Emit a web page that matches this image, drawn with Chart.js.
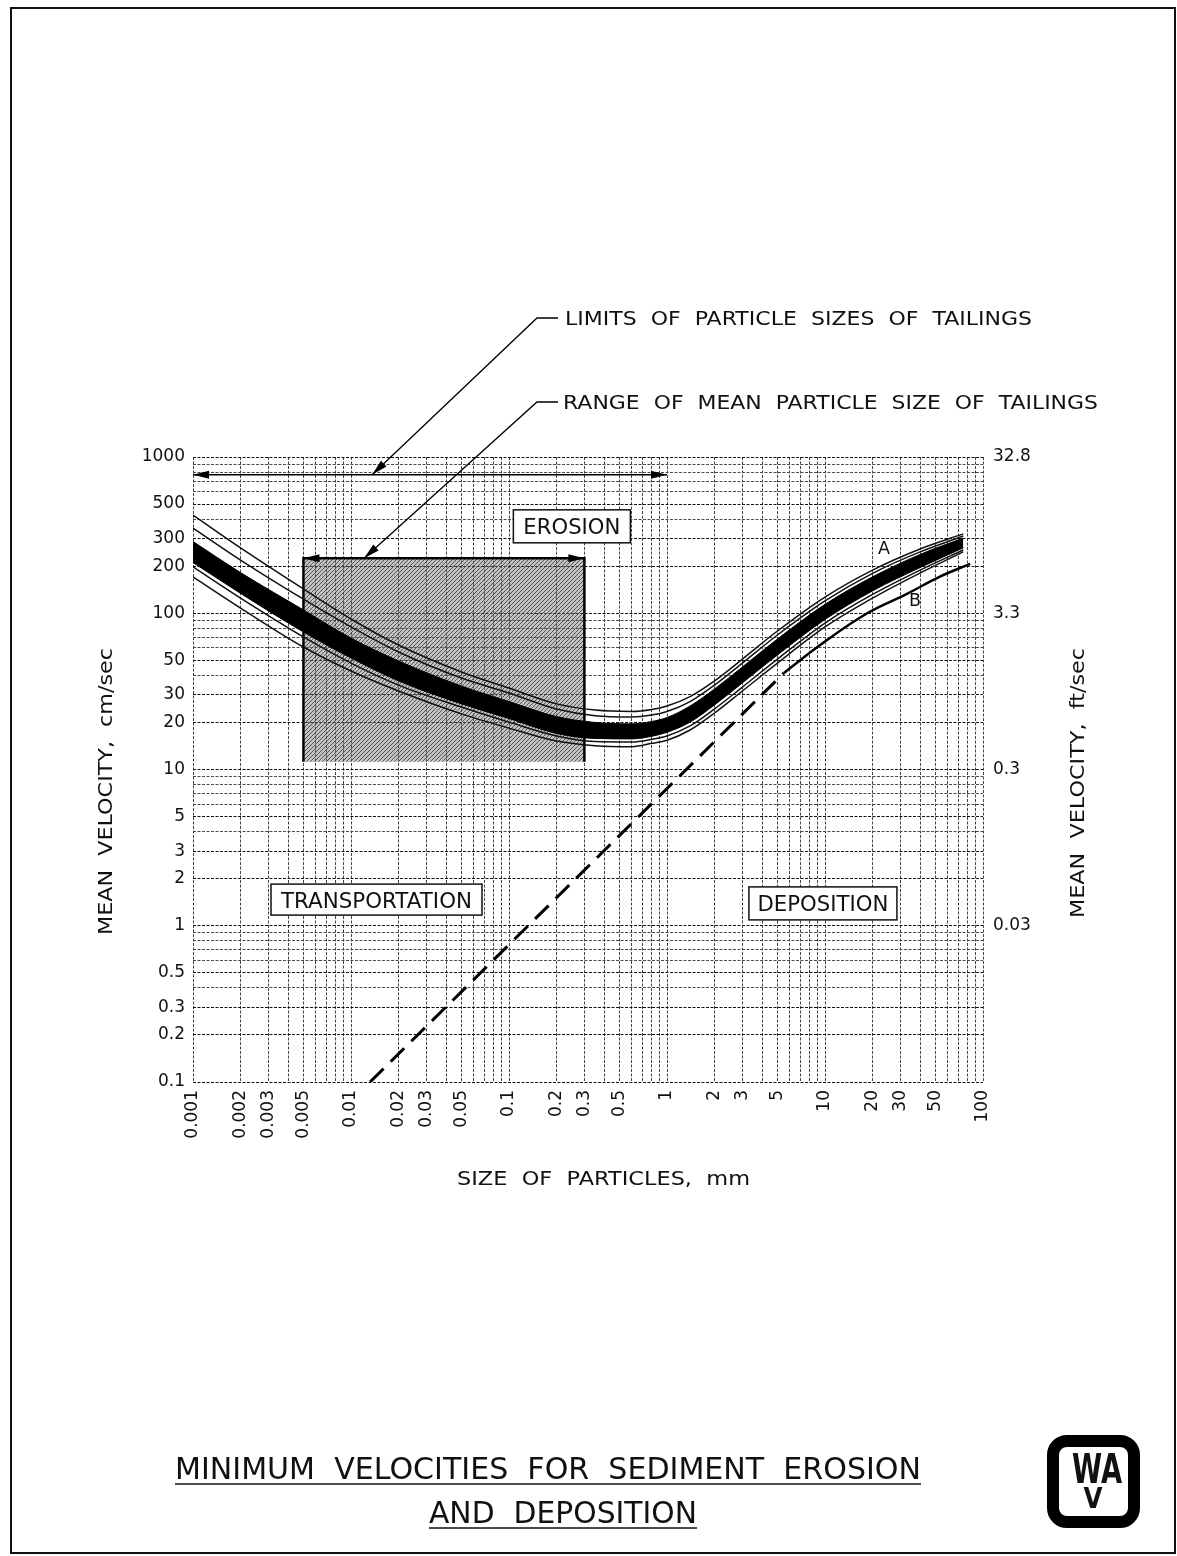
<!DOCTYPE html>
<html lang="en">
<head>
<meta charset="UTF-8" />
<title>Minimum velocities for sediment erosion and deposition</title>
<script src="https://cdn.jsdelivr.net/npm/chart.js@4.4.1/dist/chart.umd.min.js"></script>
<style>
  html, body { margin: 0; padding: 0; background: #fff; }
  canvas { display: block; }
</style>
</head>
<body>
<canvas id="chart" width="1177" height="1556"></canvas>
<script>
// axis ticks (size in mm, velocity in cm/sec)
const xTickValues = [0.001, 0.002, 0.003, 0.005, 0.01, 0.02, 0.03, 0.05, 0.1, 0.2, 0.3, 0.5, 1, 2, 3, 5, 10, 20, 30, 50, 100];
const xTickLabels = ['0.001', '0.002', '0.003', '0.005', '0.01', '0.02', '0.03', '0.05', '0.1', '0.2', '0.3', '0.5', '1', '2', '3', '5', '10', '20', '30', '50', '100'];
const yTickValues = [0.1, 0.2, 0.3, 0.5, 1, 2, 3, 5, 10, 20, 30, 50, 100, 200, 300, 500, 1000];
const yTickLabels = ['0.1', '0.2', '0.3', '0.5', '1', '2', '3', '5', '10', '20', '30', '50', '100', '200', '300', '500', '1000'];
// right axis: same positions, labelled in ft/sec
const ftTickValues = [1000, 100, 10, 1];
const ftTickLabels = ['32.8', '3.3', '0.3', '0.03'];

// erosion curve A: solid band (top/bottom edge) + two thin lines each side
const erosionSize = [0.001, 0.002, 0.005, 0.01, 0.02, 0.05, 0.1, 0.2, 0.35, 0.6, 0.8, 1, 1.4, 2, 3, 5, 10, 20, 40, 75];
const erosionUpperOuter = [425, 262, 143, 91.9, 62.6, 42.1, 33.2, 26.3, 24.0, 23.5, 24.2, 25.5, 29.3, 36.9, 50.9, 77.0, 127, 189, 258, 322];
const erosionUpperInner = [351, 219, 123, 81.7, 56.5, 38.5, 30.9, 24.4, 22.1, 21.7, 22.3, 23.5, 27.2, 34.7, 48.0, 72.6, 120, 180, 247, 312];
const erosionBandTop = [288, 182, 105, 69.4, 49.5, 34.2, 27.2, 21.8, 20.0, 19.6, 20.3, 21.5, 25.5, 32.8, 45.3, 68.4, 114, 171, 238, 303];
const erosionBandBottom = [211, 134, 75.9, 51.7, 36.9, 26.3, 21.2, 17.0, 15.8, 15.7, 16.3, 17.3, 20.1, 25.9, 35.8, 54.0, 91.2, 139, 196, 262];
const erosionLowerInner = [198, 125, 70.5, 48.0, 34.7, 25.1, 20.1, 16.4, 15.1, 15.0, 15.6, 16.4, 19.0, 24.4, 33.7, 50.9, 86.6, 132, 189, 254];
const erosionLowerOuter = [171, 108, 60.8, 42.7, 31.8, 22.7, 18.4, 15.2, 14.2, 14.0, 14.7, 15.4, 17.9, 23.0, 31.8, 48.0, 81.7, 125, 181, 247];

// deposition: dashed line, then curve B
const depositionSize = [0.0132, 5.5];
const depositionVel = [0.1, 41.5];
const curveBSize = [5.5, 9.7, 18.5, 33, 53, 83];
const curveBVel = [41.5, 64.5, 100, 133, 171, 207];

// tailings
const limitSize = [0.001, 1];
const limitVel = [770, 770];
const rangeSize = [0.005, 0.3];
const rangeTop = 225;
const rangeBottom = 11.2;

const pts = (xs, ys) => xs.map((x, i) => ({ x, y: ys[i] }));

function logGrid(from, to) {
  const out = [];
  for (let e = from; e < to; e++) {
    for (let m = 1; m < 10; m++) out.push(Number((m * 10 ** e).toPrecision(2)));
  }
  out.push(10 ** to);
  return out;
}

function labelFor(values, labels, v) {
  const i = values.findIndex(t => Math.abs(t / v - 1) < 1e-9);
  return i < 0 ? '' : labels[i];
}

const canvas = document.getElementById('chart');
const ctx0 = canvas.getContext('2d');

// diagonal hatching for the mean size range
const tile = document.createElement('canvas');
tile.width = tile.height = 4;
const tc = tile.getContext('2d');
tc.fillStyle = 'rgba(120,120,120,0.45)';
tc.fillRect(0, 0, 4, 4);
tc.strokeStyle = 'rgba(40,40,40,0.7)';
tc.lineWidth = 1;
tc.beginPath();
tc.moveTo(0, 4); tc.lineTo(4, 0);
tc.moveTo(-1, 1); tc.lineTo(1, -1);
tc.moveTo(3, 5); tc.lineTo(5, 3);
tc.stroke();
const hatch = ctx0.createPattern(tile, 'repeat');

const FONT = '"DejaVu Sans"';

// text squeezed to a given width (the drawing uses a narrow CAD lettering)
function fitText(ctx, str, cx, cy, width, size, angle = 0, bold = false) {
  ctx.save();
  ctx.font = (bold ? 'bold ' : '') + size + 'px ' + FONT;
  const k = width / ctx.measureText(str).width;
  ctx.translate(cx, cy);
  ctx.rotate(angle);
  ctx.scale(k, 1);
  ctx.textAlign = 'center';
  ctx.textBaseline = 'alphabetic';
  ctx.fillStyle = '#111';
  ctx.fillText(str, 0, size * 0.365);
  ctx.restore();
}

function arrowHead(ctx, fx, fy, tx, ty, len = 16, half = 4) {
  const a = Math.atan2(ty - fy, tx - fx);
  ctx.save();
  ctx.translate(tx, ty);
  ctx.rotate(a);
  ctx.beginPath();
  ctx.moveTo(0, 0);
  ctx.lineTo(-len, -half);
  ctx.lineTo(-len, half);
  ctx.closePath();
  ctx.fillStyle = '#000';
  ctx.fill();
  ctx.restore();
}

const decorations = {
  id: 'decorations',
  beforeDraw(chart) {
    const { ctx } = chart;
    ctx.save();
    ctx.fillStyle = '#fff';
    ctx.fillRect(0, 0, chart.width, chart.height);
    ctx.restore();
  },
  afterDatasetsDraw(chart) {
    const { ctx, scales: { x, y } } = chart;
    const px = (d, v) => [x.getPixelForValue(d), y.getPixelForValue(v)];

    // arrowheads on dimension lines
    chart.data.datasets.forEach((ds, i) => {
      if (!ds.arrows) return;
      const p = chart.getDatasetMeta(i).data;
      ds.arrows.forEach(([a, b]) => arrowHead(ctx, p[a].x, p[a].y, p[b].x, p[b].y));
    });

    // leader lines from the notes to the dimension lines
    const leaders = [
      { y: 318, tip: px(0.0136, limitVel[0]) },
      { y: 402, tip: px(0.0121, rangeTop) }
    ];
    ctx.save();
    ctx.strokeStyle = '#000';
    ctx.lineWidth = 1.3;
    leaders.forEach(l => {
      ctx.beginPath();
      ctx.moveTo(558, l.y);
      ctx.lineTo(537, l.y);
      ctx.lineTo(l.tip[0], l.tip[1]);
      ctx.stroke();
      arrowHead(ctx, 537, l.y, l.tip[0], l.tip[1]);
    });
    ctx.restore();

    // boxed zone names
    const boxes = [
      { text: 'EROSION', at: [0.25, 360], w: 117, h: 33, tw: 97 },
      { text: 'TRANSPORTATION', at: [0.0145, 1.47], w: 211, h: 31, tw: 191 },
      { text: 'DEPOSITION', at: [9.7, 1.39], w: 148, h: 33, tw: 131 }
    ];
    boxes.forEach(b => {
      const [cx, cy] = px(b.at[0], b.at[1]);
      ctx.save();
      ctx.fillStyle = '#fff';
      ctx.strokeStyle = '#111';
      ctx.lineWidth = 1.5;
      ctx.fillRect(cx - b.w / 2, cy - b.h / 2, b.w, b.h);
      ctx.strokeRect(cx - b.w / 2, cy - b.h / 2, b.w, b.h);
      ctx.restore();
      fitText(ctx, b.text, cx, cy, b.tw, 22);
    });

    // curve names
    const a = px(23.6, 262);
    const b = px(37.1, 121.6);
    fitText(ctx, 'A', a[0], a[1], 12, 17);
    fitText(ctx, 'B', b[0], b[1], 12, 17);
  },
  afterDraw(chart) {
    const { ctx } = chart;
    fitText(ctx, 'LIMITS  OF  PARTICLE  SIZES  OF  TAILINGS', 798.5, 318, 467, 20);
    fitText(ctx, 'RANGE  OF  MEAN  PARTICLE  SIZE  OF  TAILINGS', 830.5, 402, 535, 20);
    fitText(ctx, 'SIZE  OF  PARTICLES,  mm', 603.5, 1178, 293, 20);
    fitText(ctx, 'MEAN  VELOCITY,  cm/sec', 105, 791.5, 287, 20, -Math.PI / 2);
    fitText(ctx, 'MEAN  VELOCITY,  ft/sec', 1077, 783, 270, 20, -Math.PI / 2);

    // drawing title
    fitText(ctx, 'MINIMUM  VELOCITIES  FOR  SEDIMENT  EROSION', 548, 1468, 746, 30);
    fitText(ctx, 'AND  DEPOSITION', 563, 1512, 268, 30);
    ctx.save();
    ctx.strokeStyle = '#111';
    ctx.lineWidth = 1.5;
    ctx.beginPath();
    ctx.moveTo(175, 1484); ctx.lineTo(921, 1484);
    ctx.moveTo(429, 1528); ctx.lineTo(697, 1528);
    ctx.stroke();

    // sheet frame
    ctx.lineWidth = 2;
    ctx.strokeRect(11, 8, 1164, 1545);

    // logo
    ctx.lineWidth = 12;
    ctx.strokeStyle = '#000';
    ctx.beginPath();
    ctx.roundRect(1053, 1441, 81, 81, 14);
    ctx.stroke();
    ctx.restore();
    fitText(ctx, 'WA', 1097, 1468, 50, 41, 0, true);
    fitText(ctx, 'V', 1093, 1497, 19, 29, 0, true);
  }
};

const tickFont = { family: 'DejaVu Sans', size: 17 };
const xGrid = logGrid(-3, 2);
const yGrid = logGrid(-1, 3);
const smooth = { cubicInterpolationMode: 'monotone', clip: 0 };
const thin = { borderColor: '#111', borderWidth: 1.5, ...smooth };

new Chart(canvas, {
  type: 'line',
  data: {
    datasets: [
      { data: pts(erosionSize, erosionBandTop), borderColor: '#000', borderWidth: 1, ...smooth },
      {
        data: pts(erosionSize, erosionBandBottom), borderColor: '#000', borderWidth: 1,
        backgroundColor: '#000', fill: '-1', ...smooth
      },
      { data: pts(erosionSize, erosionUpperOuter), ...thin },
      { data: pts(erosionSize, erosionUpperInner), ...thin },
      { data: pts(erosionSize, erosionLowerInner), ...thin },
      { data: pts(erosionSize, erosionLowerOuter), ...thin },
      { data: pts(curveBSize, curveBVel), borderColor: '#000', borderWidth: 2.5, tension: 0.4, clip: 0 },
      {
        data: pts(depositionSize, depositionVel),
        borderColor: '#000', borderWidth: 3, borderDash: [19, 10], tension: 0, clip: 0
      },
      {
        data: pts(limitSize, limitVel),
        borderColor: '#000', borderWidth: 1.3, tension: 0, clip: 0,
        arrows: [[1, 0], [0, 1]]
      },
      {
        data: [
          { x: rangeSize[0], y: rangeBottom }, { x: rangeSize[0], y: rangeTop },
          { x: rangeSize[1], y: rangeTop }, { x: rangeSize[1], y: rangeBottom }
        ],
        borderColor: '#000', borderWidth: 2.5, tension: 0,
        arrows: [[2, 1], [1, 2]]
      },
      {
        data: pts(rangeSize, [rangeTop, rangeTop]),
        borderWidth: 0, backgroundColor: hatch, fill: { value: rangeBottom }, tension: 0
      }
    ]
  },
  options: {
    responsive: false,
    animation: false,
    devicePixelRatio: 1,
    layout: { padding: { top: 457, left: 0, right: 0, bottom: 0 } },
    elements: { point: { radius: 0, hoverRadius: 0 } },
    plugins: { legend: { display: false }, tooltip: { enabled: false } },
    events: [],
    scales: {
      x: {
        type: 'logarithmic',
        position: 'bottom',
        min: 0.001,
        max: 100,
        afterBuildTicks: s => { s.ticks = xGrid.map(v => ({ value: v })); },
        afterFit: s => { s.height = 474; },
        ticks: {
          autoSkip: false,
          minRotation: 90,
          maxRotation: 90,
          padding: 8,
          color: '#111',
          font: tickFont,
          callback: v => labelFor(xTickValues, xTickLabels, v)
        },
        grid: { color: '#444', lineWidth: 1, drawTicks: false },
        border: { display: false, dash: [3, 1.5] }
      },
      y: {
        type: 'logarithmic',
        position: 'left',
        min: 0.1,
        max: 1000,
        afterBuildTicks: s => { s.ticks = yGrid.map(v => ({ value: v })); },
        afterFit: s => { s.width = 193; },
        ticks: {
          autoSkip: false,
          padding: 8,
          color: '#111',
          font: tickFont,
          callback: v => labelFor(yTickValues, yTickLabels, v)
        },
        grid: {
          color: c => (c.tick && labelFor(yTickValues, yTickLabels, c.tick.value) ? '#111' : '#4a4a4a'),
          lineWidth: 1,
          drawTicks: false
        },
        border: { display: false, dash: [3, 1.5] }
      },
      y2: {
        type: 'logarithmic',
        position: 'right',
        min: 0.1,
        max: 1000,
        afterBuildTicks: s => { s.ticks = ftTickValues.map(v => ({ value: v })); },
        afterFit: s => { s.width = 194; },
        ticks: {
          autoSkip: false,
          padding: 10,
          color: '#111',
          font: tickFont,
          callback: v => labelFor(ftTickValues, ftTickLabels, v)
        },
        grid: { display: false, drawTicks: false },
        border: { display: false }
      }
    }
  },
  plugins: [decorations]
});
</script>
</body>
</html>
